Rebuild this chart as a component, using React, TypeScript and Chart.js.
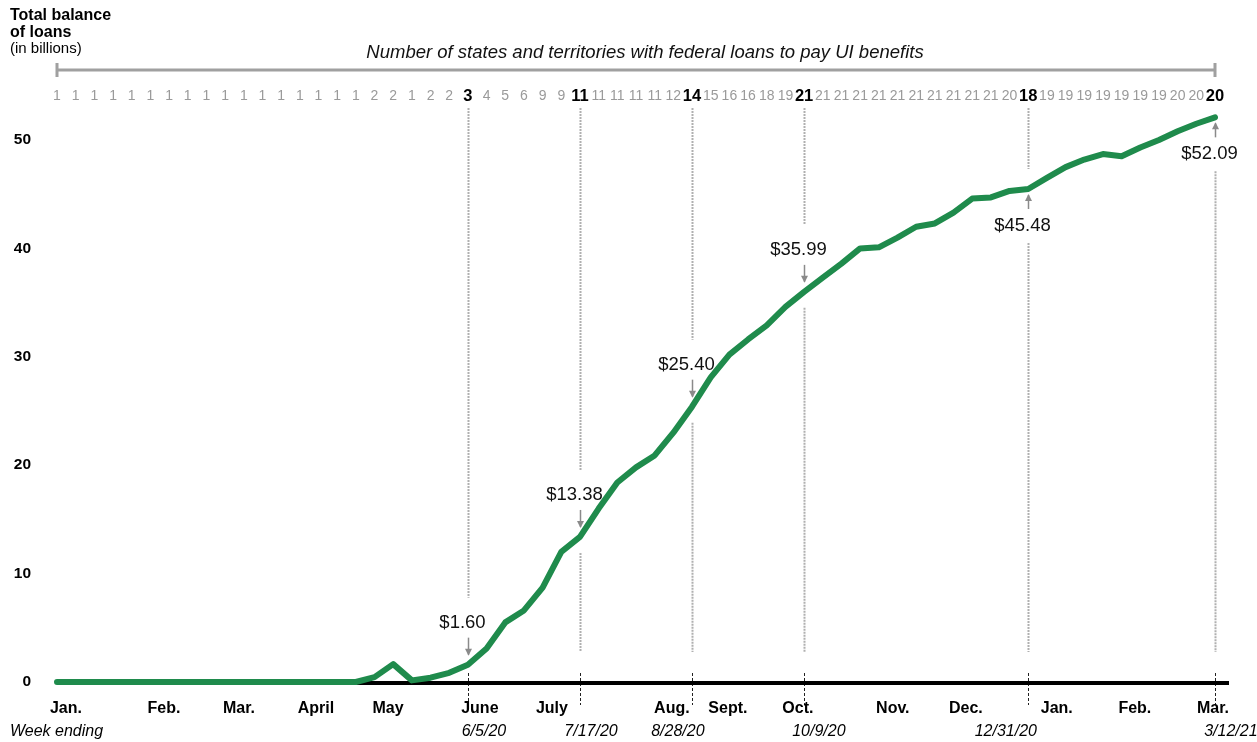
import React, { useEffect, useRef } from "react";
import { Chart, registerables } from "chart.js";

Chart.register(...registerables);

// Weekly total balance of federal UI loans (billions), week ending 1/3/20 ... 3/12/21
const balances = [
  0, 0, 0, 0, 0, 0, 0, 0, 0, 0, 0, 0, 0, 0, 0, 0, 0,
  0.45, 1.65, 0.15, 0.4, 0.85, 1.6, 3.1, 5.5, 6.6, 8.7, 12.0, 13.38,
  16.0, 18.4, 19.8, 20.9, 23.0, 25.4, 28.1, 30.2, 31.6, 32.9, 34.6, 35.99,
  37.3, 38.6, 40.0, 40.1, 41.0, 42.0, 42.3, 43.3, 44.6, 44.7, 45.3, 45.48,
  46.5, 47.5, 48.2, 48.7, 48.5, 49.3, 50.0, 50.8, 51.5, 52.09,
];

// Number of states and territories with federal loans, same weeks
const stateCounts = [
  1, 1, 1, 1, 1, 1, 1, 1, 1, 1, 1, 1, 1, 1, 1, 1, 1,
  2, 2, 1, 2, 2, 3, 4, 5, 6, 9, 9, 11,
  11, 11, 11, 11, 12, 14, 15, 16, 16, 18, 19, 21,
  21, 21, 21, 21, 21, 21, 21, 21, 21, 21, 20, 18,
  19, 19, 19, 19, 19, 19, 19, 20, 20, 20,
];

const weekLabels = balances.map((_, i) => `W${i + 1}`);

// Highlighted weeks (week index) and whether the value label sits above or below the line
const highlightWeeks = [22, 28, 34, 40, 52, 62];
const highlightSides = ["above", "above", "above", "above", "below", "below"];

// Month tick labels and their position on the week axis
const monthLabels = ["Jan.", "Feb.", "Mar.", "April", "May", "June", "July", "Aug.", "Sept.", "Oct.", "Nov.", "Dec.", "Jan.", "Feb.", "Mar."];
const monthTickAt = [0.48, 5.73, 9.74, 13.86, 17.72, 22.64, 26.5, 32.92, 35.92, 39.67, 44.75, 48.66, 53.53, 57.71, 61.89];

// Week-ending date labels and their position on the week axis
const weekEndingLabels = ["6/5/20", "7/17/20", "8/28/20", "10/9/20", "12/31/20", "3/12/21"];
const weekEndingAt = [22.86, 28.59, 33.24, 40.79, 50.8, 62.85];

const yTicks = [0, 10, 20, 30, 40, 50];

const FONT = "'Liberation Sans', Arial, Helvetica, sans-serif";
const GREEN = "#1f8b4c";

const overlayPlugin = {
  id: "overlay",
  beforeDatasetsDraw(chart: any) {
    const { ctx, scales } = chart;
    const x = scales.x;
    const y = scales.y;
    const y0 = y.getPixelForValue(0);
    ctx.save();

    // dotted gray guide lines
    highlightWeeks.forEach((w, k) => {
      const px = Math.round(x.getPixelForValue(w)) + 0.5;
      const py = y.getPixelForValue(balances[w]);
      const top = 108;
      const bottom = 652;
      let seg1End: number;
      let seg2Start: number;
      if (highlightSides[k] === "above") {
        const labelY = py - 10 - 17 - 15;
        seg1End = labelY - 25;
        seg2Start = py + 16;
      } else {
        const labelY = py + 6 + 14 + 17;
        seg1End = py - 20;
        seg2Start = labelY + 17;
      }
      ctx.strokeStyle = "#b0b0b0";
      ctx.lineWidth = 2;
      ctx.setLineDash([2, 1]);
      if (seg1End - top > 4) {
        ctx.beginPath();
        ctx.moveTo(px, top);
        ctx.lineTo(px, seg1End);
        ctx.stroke();
      }
      if (bottom - seg2Start > 4) {
        ctx.beginPath();
        ctx.moveTo(px, seg2Start);
        ctx.lineTo(px, bottom);
        ctx.stroke();
      }
      // black dashed tick through the axis
      ctx.strokeStyle = "#222";
      ctx.lineWidth = 1;
      ctx.setLineDash([3, 2]);
      ctx.beginPath();
      ctx.moveTo(px, y0 - 9);
      ctx.lineTo(px, y0 + 23);
      ctx.stroke();
    });
    ctx.setLineDash([]);

    // black baseline
    ctx.strokeStyle = "#000";
    ctx.lineWidth = 4;
    ctx.beginPath();
    ctx.moveTo(x.getPixelForValue(0), y0 + 1);
    ctx.lineTo(x.getPixelForValue(62) + 14, y0 + 1);
    ctx.stroke();
    ctx.restore();
  },
  afterDatasetsDraw(chart: any) {
    const { ctx, scales } = chart;
    const x = scales.x;
    const y = scales.y;
    const y0 = y.getPixelForValue(0);
    const xLeft = x.getPixelForValue(0);
    const xRight = x.getPixelForValue(62);
    ctx.save();

    // Y label block
    ctx.fillStyle = "#000";
    ctx.textAlign = "left";
    ctx.textBaseline = "alphabetic";
    ctx.font = `bold 16px ${FONT}`;
    ctx.fillText("Total balance", 10, 20);
    ctx.fillText("of loans", 10, 37);
    ctx.font = `15px ${FONT}`;
    ctx.fillText("(in billions)", 10, 53);

    // subtitle + bracket
    ctx.font = `italic 18.5px ${FONT}`;
    ctx.textAlign = "center";
    ctx.textBaseline = "middle";
    ctx.fillStyle = "#111";
    ctx.fillText("Number of states and territories with federal loans to pay UI benefits", (xLeft + xRight) / 2 + 9, 53);
    ctx.strokeStyle = "#a0a0a0";
    ctx.lineWidth = 3;
    ctx.beginPath();
    ctx.moveTo(xLeft, 70);
    ctx.lineTo(xRight, 70);
    ctx.moveTo(xLeft, 63);
    ctx.lineTo(xLeft, 77);
    ctx.moveTo(xRight, 63);
    ctx.lineTo(xRight, 77);
    ctx.stroke();

    // state counts row
    stateCounts.forEach((c, i) => {
      const px = x.getPixelForValue(i);
      const bold = highlightWeeks.includes(i);
      ctx.font = bold ? `bold 16.5px ${FONT}` : `14px ${FONT}`;
      ctx.fillStyle = bold ? "#000" : "#9a9a9a";
      ctx.fillText(String(c), px, 96);
    });

    // y ticks
    ctx.font = `bold 15.5px ${FONT}`;
    ctx.fillStyle = "#000";
    ctx.textAlign = "right";
    yTicks.forEach((v) => {
      ctx.fillText(String(v), 31, y.getPixelForValue(v));
    });

    // month labels
    ctx.textAlign = "center";
    ctx.font = `bold 16px ${FONT}`;
    monthLabels.forEach((m, k) => {
      ctx.fillText(m, x.getPixelForValue(monthTickAt[k]), y0 + 27);
    });

    // week ending
    ctx.font = `italic 16px ${FONT}`;
    ctx.textAlign = "left";
    ctx.fillText("Week ending", 10, y0 + 50);
    ctx.textAlign = "center";
    weekEndingLabels.forEach((d, k) => {
      ctx.fillText(d, x.getPixelForValue(weekEndingAt[k]), y0 + 50);
    });

    // value annotations with arrows
    highlightWeeks.forEach((w, k) => {
      const px = Math.round(x.getPixelForValue(w)) + 0.5;
      const py = y.getPixelForValue(balances[w]);
      let tip: number, tail: number, labelY: number;
      if (highlightSides[k] === "above") {
        tip = py - 10;
        tail = tip - 17;
        labelY = tail - 15;
      } else {
        tip = py + 6;
        tail = tip + 14;
        labelY = tail + 17;
      }
      ctx.strokeStyle = "#8a8a8a";
      ctx.fillStyle = "#8a8a8a";
      ctx.lineWidth = 1.5;
      ctx.beginPath();
      ctx.moveTo(px, tail);
      ctx.lineTo(px, tip);
      ctx.stroke();
      const dir = tip > tail ? 1 : -1;
      ctx.beginPath();
      ctx.moveTo(px, tip + dir * 1);
      ctx.lineTo(px - 3.5, tip - dir * 6);
      ctx.lineTo(px + 3.5, tip - dir * 6);
      ctx.closePath();
      ctx.fill();

      ctx.fillStyle = "#111";
      ctx.font = `18.5px ${FONT}`;
      ctx.textAlign = "center";
      ctx.textBaseline = "middle";
      ctx.fillText("$" + balances[w].toFixed(2), px - 6, labelY);
    });

    ctx.restore();
  },
};

export default function App() {
  const canvasRef = useRef<HTMLCanvasElement | null>(null);

  useEffect(() => {
    const canvas = canvasRef.current;
    if (!canvas) return;
    const chart = new Chart(canvas, {
      type: "line",
      data: {
        labels: weekLabels,
        datasets: [
          {
            label: "Total balance of loans",
            data: balances,
            borderColor: GREEN,
            backgroundColor: GREEN,
            borderWidth: 6,
            pointRadius: 0,
            pointHoverRadius: 0,
            tension: 0,
            borderCapStyle: "round",
            borderJoinStyle: "round",
            clip: false as any,
          },
        ],
      },
      options: {
        responsive: false,
        animation: false,
        devicePixelRatio: 1,
        layout: {
          padding: { left: 57, right: 42, top: 682 - 55 * 10.84, bottom: 60 },
        },
        plugins: {
          legend: { display: false },
          title: { display: false },
          tooltip: { enabled: false },
        },
        scales: {
          x: { display: false, offset: false },
          y: { display: false, min: 0, max: 55 },
        },
      },
      plugins: [overlayPlugin],
    });
    return () => chart.destroy();
  }, []);

  return (
    <div style={{ position: "fixed", left: 0, top: 0, width: 1257, height: 742, background: "#fff" }}>
      <canvas ref={canvasRef} width={1257} height={742} style={{ display: "block", width: 1257, height: 742 }} />
    </div>
  );
}
